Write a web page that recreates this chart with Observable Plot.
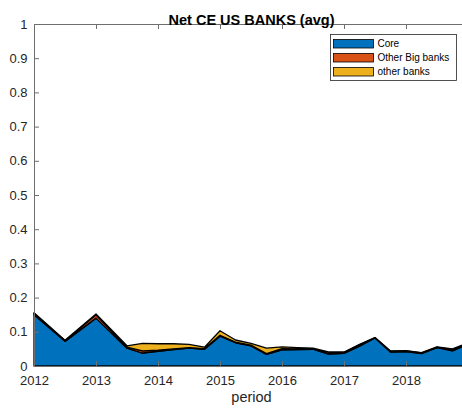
<!DOCTYPE html>
<html><head><meta charset="utf-8">
<script src="https://cdn.jsdelivr.net/npm/d3@7"></script>
<script src="https://cdn.jsdelivr.net/npm/@observablehq/plot@0.6"></script>
<style>
html,body{margin:0;padding:0;background:#fff;overflow:hidden}
#chart{position:relative;width:462px;height:409px;overflow:hidden}
#chart svg{overflow:hidden}
</style>
</head><body><div id="chart"></div>
<script>
const periods    = [2012, 2012.5, 2013, 2013.5, 2013.75, 2014, 2014.25, 2014.5, 2014.75, 2015, 2015.25, 2015.5, 2015.75, 2016, 2016.25, 2016.5, 2016.75, 2017, 2017.25, 2017.5, 2017.75, 2018, 2018.25, 2018.5, 2018.75, 2019];
const core       = [0.150, 0.072, 0.140, 0.052, 0.038, 0.043, 0.048, 0.052, 0.049, 0.087, 0.068, 0.059, 0.034, 0.047, 0.048, 0.049, 0.035, 0.037, 0.058, 0.082, 0.041, 0.042, 0.036, 0.054, 0.044, 0.064];
const otherBig   = [0.004, 0.002, 0.010, 0.003, 0.006, 0.003, 0.002, 0.002, 0.002, 0.003, 0.002, 0.002, 0.002, 0.004, 0.002, 0.001, 0.002, 0.002, 0.004, 0.001, 0.002, 0.002, 0.002, 0.001, 0.004, 0.003];
const otherBanks = [0.002, 0.001, 0.002, 0.004, 0.022, 0.019, 0.015, 0.009, 0.004, 0.013, 0.006, 0.005, 0.016, 0.005, 0.004, 0.002, 0.004, 0.002, 0.001, 0.000, 0.001, 0.001, 0.001, 0.001, 0.002, 0.001];
const seriesNames  = ["Core", "Other Big banks", "other banks"];
const seriesColors = ["#0072BD", "#D95319", "#EDB120"];
const xTicks = [2012, 2013, 2014, 2015, 2016, 2017, 2018];
const yTicks = [0, 0.1, 0.2, 0.3, 0.4, 0.5, 0.6, 0.7, 0.8, 0.9, 1];
const titleText = "Net CE US BANKS (avg)";
const xLabel = "period";

const seriesValues = [core, otherBig, otherBanks];
const rows = [];
seriesNames.forEach((s, k) => periods.forEach((p, i) => rows.push({period: p, series: s, value: seriesValues[k][i]})));

const textColor = "#262626";
const axisColor = "#6e6e6e";
const fmtY = d => String(Math.round(d * 10) / 10);

const chart = Plot.plot({
  width: 462, height: 409,
  marginLeft: 34, marginRight: -6, marginTop: 24, marginBottom: 43,
  style: {fontFamily: "'Liberation Sans', Arial, Helvetica, sans-serif", fontSize: "13px", color: textColor, background: "white"},
  x: {domain: [2012, 2019], label: null},
  y: {domain: [0, 1], label: null},
  color: {domain: seriesNames, range: seriesColors},
  marks: [
    Plot.areaY(rows, {x: "period", y: "value", z: "series", fill: "series", stroke: "black", strokeWidth: 1.3, strokeLinejoin: "round", order: seriesNames}),
    Plot.ruleX([2012], {y1: 0, y2: 1, stroke: axisColor, strokeWidth: 1}),
    Plot.ruleY([0, 1], {x1: 2012, x2: 2019, stroke: axisColor, strokeWidth: 1}),
    Plot.ruleX(xTicks, {y1: 0, y2: 5 / 342, stroke: axisColor}),
    Plot.ruleX(xTicks, {y1: 1, y2: 1 - 5 / 342, stroke: axisColor}),
    Plot.ruleY(yTicks, {x1: 2012, x2: 2012 + 5 / 62, stroke: axisColor}),
    Plot.axisX({ticks: xTicks, tickSize: 0, tickPadding: 9, tickFormat: d => String(d), label: null, fontSize: 13}),
    Plot.axisY({ticks: yTicks, tickSize: 0, tickPadding: 7, tickFormat: fmtY, label: null, fontSize: 13}),
    Plot.text([titleText], {frameAnchor: "top", dy: -10, fontWeight: "bold", fontSize: 14.5, fill: "black"}),
    Plot.text([xLabel], {frameAnchor: "bottom", dy: 35, fontSize: 14.5, fill: textColor})
  ]
});
document.getElementById("chart").appendChild(chart);

// legend (MATLAB-style box)
const svg = d3.select(chart);
const lg = svg.append("g").attr("font-family", "'Liberation Sans', Arial, sans-serif").attr("font-size", 10).attr("text-anchor", "start");
lg.append("rect").attr("x", 330.5).attr("y", 34.5).attr("width", 126).attr("height", 46)
  .attr("fill", "white").attr("stroke", textColor).attr("stroke-width", 0.8);
seriesNames.forEach((s, i) => {
  const y = 39 + i * 14;
  lg.append("rect").attr("x", 333.5).attr("y", y + 0.5).attr("width", 40).attr("height", 8.5)
    .attr("fill", seriesColors[i]).attr("stroke", "black").attr("stroke-width", 0.8);
  lg.append("text").attr("x", 377.5).attr("y", y + 4.8).attr("dy", "0.35em").attr("text-anchor", "start").attr("fill", "black").text(s);
});
</script>
</body></html>
